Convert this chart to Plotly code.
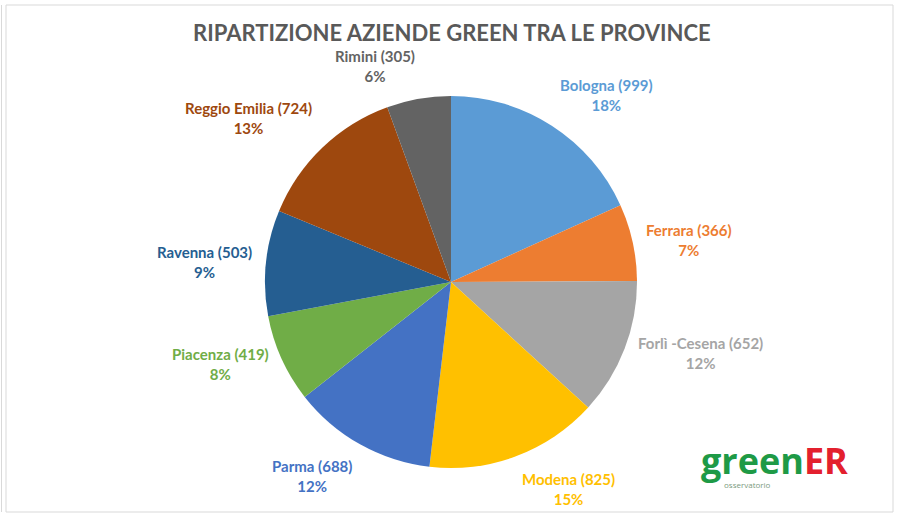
import math
import plotly.graph_objects as go

# ---- data ----
provinces = ["Bologna", "Ferrara", "Forlì -Cesena", "Modena", "Parma",
             "Piacenza", "Ravenna", "Reggio Emilia", "Rimini"]
companies = [999, 366, 652, 825, 688, 419, 503, 724, 305]
pct_labels = ["18%", "7%", "12%", "15%", "12%", "8%", "9%", "13%", "6%"]
slice_colors = ["#5B9BD5", "#ED7D31", "#A5A5A5", "#FFC000", "#4472C4",
                "#70AD47", "#255E91", "#9E480E", "#636363"]
title_text = "RIPARTIZIONE AZIENDE GREEN TRA LE PROVINCE"

W, H = 898, 521
# pie placement (pixels)
cx, cy, R = 451, 282, 186
label_gap = 12

fig = go.Figure()
fig.add_trace(go.Pie(
    labels=provinces,
    values=companies,
    sort=False,
    direction="clockwise",
    rotation=0,
    marker=dict(colors=slice_colors, line=dict(width=0)),
    textinfo="none",
    hoverinfo="label+value+percent",
    showlegend=False,
    domain=dict(x=[(cx - R) / W, (cx + R) / W],
                y=[1 - (cy + R) / H, 1 - (cy - R) / H]),
))

# outside-end labels, placed from the slice mid angles
total = sum(companies)
cum = 0
annotations = []
for name, v, p, col in zip(provinces, companies, pct_labels, slice_colors):
    mid = (cum + v / 2) / total * 2 * math.pi
    cum += v
    s, c = math.sin(mid), math.cos(mid)
    d = R + label_gap
    px = cx + d * s
    py = cy - d * c
    xa = "left" if s > 0.15 else ("right" if s < -0.15 else "center")
    if abs(c) < 0.5:
        ya = "middle"
    else:
        ya = "bottom" if c > 0 else "top"
    annotations.append(dict(
        x=px / W, y=1 - py / H, xref="paper", yref="paper",
        text=f"<b>{name} ({v})</b><br><b>{p}</b>",
        showarrow=False, xanchor=xa, yanchor=ya, align="center",
        font=dict(family="Lato", size=15, color=col),
    ))

# title
annotations.append(dict(
    x=452 / W, y=1 - 33 / H, xref="paper", yref="paper",
    text=f"<b>{title_text}</b>", showarrow=False,
    xanchor="center", yanchor="middle",
    font=dict(family="Lato", size=22, color="#595959"),
))

# greenER logo
annotations.append(dict(
    x=699 / W, y=1 - 460 / H, xref="paper", yref="paper",
    text="<b><span style='color:#1E9A46'>green</span><span style='color:#E3202E'>ER</span></b>",
    showarrow=False, xanchor="left", yanchor="middle",
    font=dict(family="Open Sans", size=36),
))
annotations.append(dict(
    x=722 / W, y=1 - 484 / H, xref="paper", yref="paper",
    text="osservatorio", showarrow=False, xanchor="left", yanchor="middle",
    font=dict(family="Open Sans", size=8, color="#7a9a80"),
))

shapes = [
    dict(type="rect", xref="paper", yref="paper",
         x0=6 / W, x1=893 / W, y0=1 - 512 / H, y1=1 - 5 / H,
         line=dict(color="#D9D9D9", width=1)),
    dict(type="line", xref="paper", yref="paper",
         x0=1.5 / W, x1=1.5 / W, y0=1 - 512 / H, y1=1 - 5 / H,
         line=dict(color="#D9D9D9", width=1)),
]

fig.update_layout(
    width=W, height=H,
    margin=dict(l=0, r=0, t=0, b=0),
    paper_bgcolor="white",
    plot_bgcolor="white",
    annotations=annotations,
    shapes=shapes,
)

fig.write_html("out.html")
